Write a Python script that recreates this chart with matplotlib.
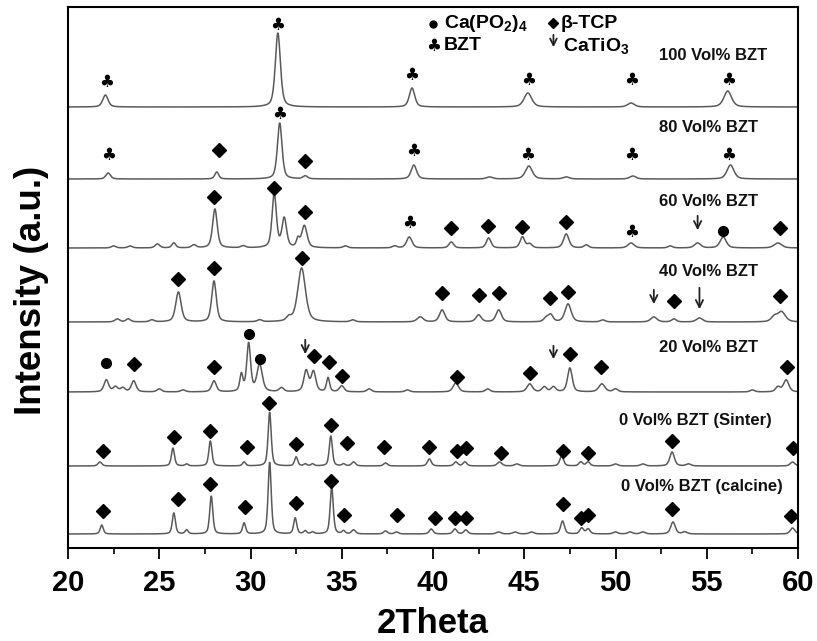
import numpy as np
import matplotlib
matplotlib.use("Agg")
import matplotlib.pyplot as plt
from matplotlib.ticker import MultipleLocator

plt.rcParams['font.family'] = ['Liberation Sans', 'DejaVu Sans']
plt.rcParams['font.weight'] = 'bold'
plt.rcParams['mathtext.fontset'] = 'custom'
plt.rcParams['mathtext.rm'] = 'Liberation Sans:bold'
plt.rcParams['mathtext.it'] = 'Liberation Sans:bold'
plt.rcParams['mathtext.bf'] = 'Liberation Sans:bold'
plt.rcParams['mathtext.default'] = 'rm'

# ---------------- data ----------------
sample_labels = ["100 Vol% BZT", "80 Vol% BZT", "60 Vol% BZT", "40 Vol% BZT",
                 "20 Vol% BZT", "0 Vol% BZT (Sinter)", "0 Vol% BZT (calcine)"]
baselines = [439, 367, 298, 224, 154, 80, 12]          # vertical offsets (a.u.)
label_x = [52.4, 52.4, 52.4, 52.4, 52.4, 50.2, 50.3]
label_y = [490, 418, 344, 274, 198, 126, 59]

# peaks: (2theta, height, fwhm)
peaks_100 = [(22.05, 12, 0.35), (31.5, 74, 0.33), (38.85, 19, 0.35),
             (45.2, 14, 0.5), (50.85, 4, 0.45), (56.15, 16, 0.5)]
peaks_80 = [(22.2, 6, 0.3), (28.15, 7, 0.25), (31.6, 56, 0.3), (33.0, 3, 0.3),
            (38.95, 14, 0.35), (43.1, 2, 0.4), (45.25, 13, 0.45), (47.3, 2, 0.4),
            (50.95, 3, 0.4), (56.3, 14, 0.45)]
peaks_60 = [(22.5, 2, 0.3), (23.4, 2, 0.3), (24.9, 4, 0.3), (25.8, 5, 0.25),
            (26.9, 3, 0.3), (28.05, 39, 0.3), (29.6, 2, 0.3), (31.3, 54, 0.28),
            (31.85, 29, 0.3), (32.6, 8, 0.2), (32.95, 22, 0.35), (35.2, 2, 0.3),
            (37.9, 2, 0.3), (38.7, 11, 0.35), (41.0, 6, 0.3), (43.05, 10, 0.3),
            (44.9, 11, 0.3), (45.3, 4, 0.3), (47.3, 14, 0.35), (48.4, 3, 0.3),
            (50.85, 5, 0.4), (53.0, 2, 0.3), (54.5, 5, 0.4), (55.9, 11, 0.4),
            (58.9, 5, 0.5)]
peaks_40 = [(22.7, 3, 0.3), (23.3, 3, 0.3), (24.6, 2, 0.3), (26.05, 30, 0.35),
            (28.0, 41, 0.3), (30.5, 2, 0.3), (32.1, 4, 0.3), (32.8, 54, 0.5),
            (35.6, 2, 0.3), (39.3, 5, 0.4), (40.5, 12, 0.35), (42.5, 7, 0.35),
            (43.6, 12, 0.35), (46.2, 4, 0.3), (46.45, 7, 0.3), (47.4, 18, 0.4),
            (49.3, 2, 0.3), (52.1, 5, 0.4), (53.2, 3, 0.3), (54.6, 4, 0.4),
            (58.7, 5, 0.4), (59.1, 10, 0.5)]
peaks_20 = [(22.1, 12, 0.3), (22.6, 5, 0.3), (23.0, 4, 0.3), (23.6, 11, 0.3),
            (25.0, 3, 0.3), (26.3, 2, 0.3), (28.0, 11, 0.3), (29.5, 17, 0.2),
            (29.9, 48, 0.25), (30.5, 27, 0.35), (31.7, 4, 0.3), (33.05, 21, 0.3),
            (33.45, 20, 0.3), (34.25, 14, 0.2), (35.0, 6, 0.3), (36.5, 3, 0.3),
            (38.6, 2, 0.3), (41.25, 9, 0.35), (43.0, 3, 0.3), (45.3, 8, 0.35),
            (46.1, 5, 0.3), (46.6, 5, 0.3), (47.5, 24, 0.3), (49.25, 8, 0.4),
            (50.0, 3, 0.3), (57.5, 2, 0.3), (58.9, 5, 0.3), (59.35, 12, 0.35)]
peaks_sinter = [(21.75, 4, 0.25), (25.75, 18, 0.2), (26.5, 2, 0.2), (27.8, 25, 0.2),
                (29.65, 4, 0.2), (31.05, 54, 0.2), (32.5, 9, 0.2), (33.0, 2, 0.2),
                (33.4, 2, 0.2), (34.4, 30, 0.2), (35.1, 2, 0.2), (35.65, 4, 0.25),
                (37.4, 3, 0.25), (39.8, 7, 0.25), (41.25, 4, 0.25), (41.75, 4, 0.25),
                (43.65, 4, 0.3), (44.6, 2, 0.3), (47.05, 10, 0.25), (48.1, 4, 0.25),
                (48.5, 4, 0.25), (50.0, 2, 0.3), (51.5, 2, 0.3), (53.1, 14, 0.3),
                (54.0, 2, 0.3), (59.7, 4, 0.3)]
peaks_calcine = [(21.85, 9, 0.2), (25.8, 21, 0.2), (26.5, 4, 0.2), (27.85, 38, 0.2),
                 (29.65, 11, 0.2), (31.05, 72, 0.2), (32.45, 16, 0.2), (33.0, 3, 0.2),
                 (33.4, 2, 0.2), (34.45, 47, 0.2), (35.1, 3, 0.2), (35.65, 4, 0.25),
                 (37.4, 3, 0.25), (38.0, 2, 0.25), (39.9, 5, 0.25), (41.2, 5, 0.25),
                 (41.8, 4, 0.25), (43.6, 2, 0.3), (44.5, 2, 0.3), (45.4, 2, 0.3),
                 (47.1, 13, 0.25), (48.15, 6, 0.25), (48.5, 5, 0.25), (50.0, 2, 0.3),
                 (50.8, 2, 0.3), (51.5, 2, 0.3), (53.15, 12, 0.3), (53.8, 2, 0.3),
                 (59.7, 6, 0.3)]
peak_tables = [peaks_100, peaks_80, peaks_60, peaks_40, peaks_20, peaks_sinter, peaks_calcine]

# phase markers: (2theta, level)
club_marks = [(22.1, 464), (31.5, 521), (38.8, 471), (45.25, 466), (50.9, 466), (56.2, 466),
              (22.2, 391), (31.6, 432), (38.95, 395), (45.2, 391), (50.9, 391), (56.2, 391),
              (38.7, 323), (50.9, 314)]
diamond_marks = [(28.3, 396), (33.0, 385),
                 (28.0, 349), (31.3, 358), (33.0, 334), (41.0, 318), (43.0, 320), (44.9, 319),
                 (47.3, 324), (59.0, 318),
                 (26.0, 267), (28.0, 278), (32.8, 288), (40.5, 253), (42.5, 251), (43.6, 253),
                 (46.4, 248), (47.4, 254), (53.2, 245), (59.0, 250),
                 (23.6, 182), (28.0, 179), (33.5, 190), (34.3, 184), (35.0, 170), (41.3, 169),
                 (45.3, 173), (47.5, 192), (49.2, 179), (59.4, 179),
                 (21.9, 95), (25.8, 109), (27.8, 115), (29.8, 99), (31.0, 143), (32.5, 102),
                 (34.4, 121), (35.3, 103), (37.3, 99), (39.8, 99), (41.3, 95), (41.8, 98),
                 (43.7, 93), (47.1, 95), (48.5, 93), (53.1, 105), (59.7, 98),
                 (21.9, 35), (26.0, 47), (27.8, 62), (29.7, 39), (32.5, 43), (34.4, 65),
                 (35.1, 31), (38.0, 31), (40.1, 28), (41.2, 28), (41.8, 28), (47.1, 42),
                 (48.1, 28), (48.5, 31), (53.1, 37), (59.6, 30)]
dot_marks = [(55.9, 315), (22.1, 183), (29.9, 212), (30.5, 187)]
arrow_marks = [(54.5, 333, 313), (52.1, 259, 239), (54.6, 261, 234),
               (33.0, 209, 189), (46.6, 203, 184)]   # (2theta, top, bottom)

x_ticks = [20, 25, 30, 35, 40, 45, 50, 55, 60]

# ---------------- figure ----------------
W, H = 817, 641
fig = plt.figure(figsize=(W / 100, H / 100), dpi=100)
ax = fig.add_axes([68 / W, (H - 548) / H, (798 - 68) / W, (548 - 7) / H])

two_theta = np.arange(20.0, 60.001, 0.02)


def profile(x, table):
    y = np.zeros_like(x)
    for pos, h, w in table:
        g = np.exp(-4 * np.log(2) * ((x - pos) / w) ** 2)
        l = 1.0 / (1.0 + 4 * ((x - pos) / w) ** 2)
        y += h * (0.5 * g + 0.5 * l)
    return y


line_color = '#5a5a5a'
for base, table in zip(baselines, peak_tables):
    ax.plot(two_theta, base + profile(two_theta, table), color=line_color, lw=1.1)

for lab, lx, ly in zip(sample_labels, label_x, label_y):
    ax.text(lx, ly, lab, fontsize=12, fontweight='bold', ha='left', va='center', color='#111111')

# markers
dx, dy = zip(*diamond_marks)
ax.plot(dx, dy, ls='none', marker='D', ms=6.8, color='black')
ox, oy = zip(*dot_marks)
ax.plot(ox, oy, ls='none', marker='o', ms=7, color='black')
for cx, cy in club_marks:
    ax.text(cx, cy, '\u2663', family='DejaVu Sans', fontsize=12, ha='center', va='center', color='black')
for axx, top, bot in arrow_marks:
    ax.annotate('', xy=(axx, bot), xytext=(axx, top),
                arrowprops=dict(arrowstyle='->', lw=1.3, color='#222222', mutation_scale=13))

# legend block
ax.plot([40.0], [522], ls='none', marker='o', ms=5, color='black')
ax.text(40.6, 523, 'Ca(PO$_2$)$_4$', fontsize=14, ha='left', va='center')
ax.text(40.05, 500, '\u2663', family='DejaVu Sans', fontsize=12, ha='center', va='center')
ax.text(40.6, 500, 'BZT', fontsize=14, ha='left', va='center')
ax.plot([46.6], [523], ls='none', marker='D', ms=5, color='black')
ax.text(47.0, 523, '\u03b2-TCP', fontsize=14, ha='left', va='center')
ax.annotate('', xy=(46.6, 496), xytext=(46.6, 514),
            arrowprops=dict(arrowstyle='->', lw=1.3, color='#222222', mutation_scale=12))
ax.text(47.1, 500, 'CaTiO$_3$', fontsize=14, ha='left', va='center')

# axes styling
ax.set_xlim(20, 60)
ax.set_ylim(-2, 539)
ax.set_xticks(x_ticks)
ax.xaxis.set_minor_locator(MultipleLocator(2.5))
ax.set_yticks([])
ax.tick_params(axis='x', which='major', direction='out', length=8, width=1.3, pad=7,
               labelsize=21)
ax.tick_params(axis='x', which='minor', direction='out', length=4.5, width=1.2)
for lbl in ax.get_xticklabels():
    lbl.set_fontweight('bold')
for sp in ax.spines.values():
    sp.set_linewidth(1.5)
ax.set_xlabel('2Theta', fontsize=25, fontweight='bold', labelpad=7)
fig.text(32 / W, 1 - 290 / H, 'Intensity (a.u.)', rotation=90, fontsize=26.5,
         fontweight='bold', ha='center', va='center')

fig.savefig('out.png', dpi=100)
